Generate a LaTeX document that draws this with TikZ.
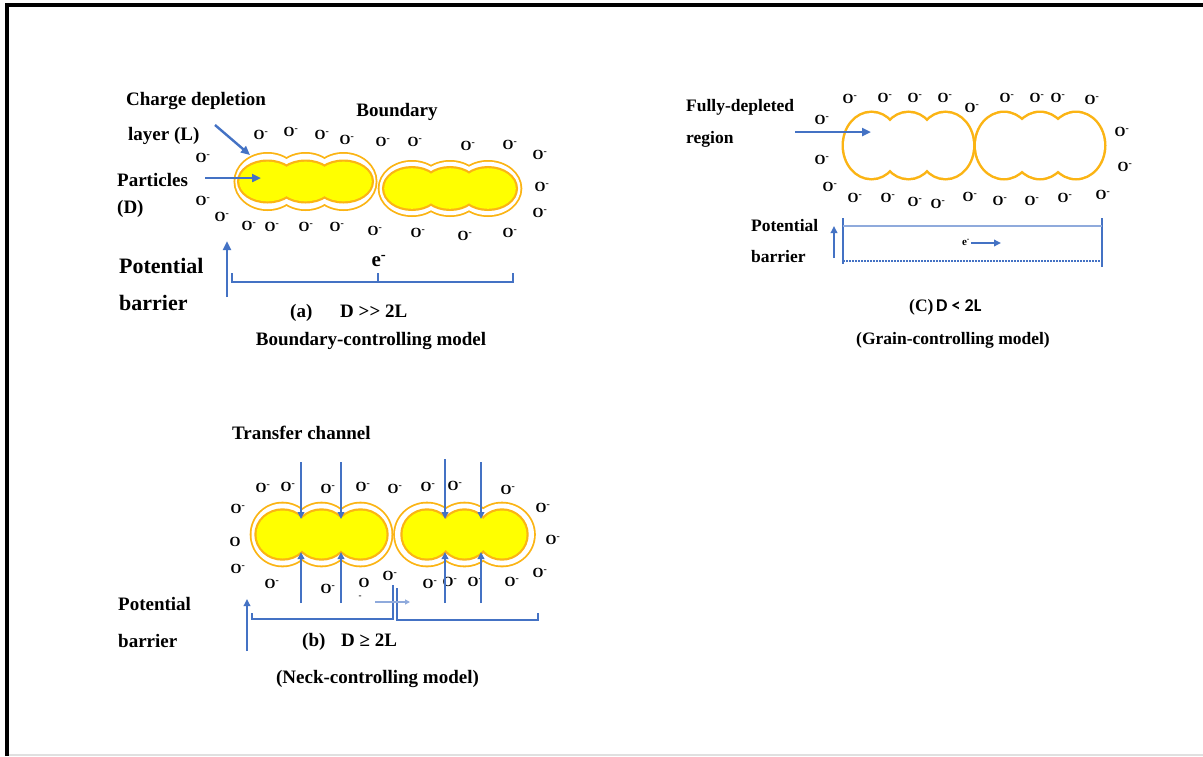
\documentclass[tikz,border=0pt]{standalone}
\usepackage{fontspec}
\setmainfont{Liberation Serif}
\newfontfamily\calfont{Carlito}
\usetikzlibrary{arrows.meta}

\definecolor{lineblue}{HTML}{4472C4}
\definecolor{paleblue}{HTML}{8FAADC}
\definecolor{grainedge}{HTML}{FBB414}
\definecolor{grainfill}{HTML}{FFFF00}

\tikzset{
  lbl/.style={inner sep=0pt, font=\fontsize{19}{22}\selectfont\bfseries},
  biglbl/.style={inner sep=0pt, font=\fontsize{22}{25}\selectfont\bfseries},
  midlbl/.style={inner sep=0pt, font=\fontsize{17.5}{20}\selectfont\bfseries},
  ox/.style={inner sep=0pt, font=\fontsize{14}{15}\selectfont\bfseries},
  elbl/.style={inner sep=0pt, font=\fontsize{21}{23}\selectfont\bfseries},
  smalle/.style={inner sep=0pt, font=\fontsize{11}{12}\selectfont\bfseries},
  barrow/.style={lineblue, line width=2.4pt, -{Triangle[length=9pt,width=8pt]}},
  sarrow/.style={lineblue, line width=2.2pt, -{Triangle[length=7pt,width=6.5pt]}},
  thinarrow/.style={paleblue, line width=1.2pt, -{Triangle[length=5pt,width=5pt]}},
  bracket/.style={lineblue, line width=2.4pt},
}

% grains with a depletion halo: #1 centre y, #2 centre xs, #3/#4 core radii, #5/#6 halo radii
\newcommand\haloedgrains[6]{%
  \foreach \cx in {#2} \draw[grainedge, line width=3.6pt] (\cx,#1) ellipse [x radius=#5pt, y radius=#6pt];
  \foreach \cx in {#2} \fill[white] (\cx,#1) ellipse [x radius=#5pt, y radius=#6pt];
  \foreach \cx in {#2} \draw[grainedge, line width=4.4pt] (\cx,#1) ellipse [x radius=#3pt, y radius=#4pt];
  \foreach \cx in {#2} \fill[grainfill] (\cx,#1) ellipse [x radius=#3pt, y radius=#4pt];
}
% fully depleted grains: outline only
\newcommand\emptygrains[4]{%
  \foreach \cx in {#2} \draw[grainedge, line width=5pt] (\cx,#1) ellipse [x radius=#3pt, y radius=#4pt];
  \foreach \cx in {#2} \fill[white] (\cx,#1) ellipse [x radius=#3pt, y radius=#4pt];
}

\begin{document}
\begin{tikzpicture}[x=1pt, y=-1pt]
\useasboundingbox (0,0) rectangle (1203,756);
\fill[white] (0,0) rectangle (1203,756);

% frame
\draw[line width=4pt, line join=miter] (7,756) -- (7,5.3) -- (1203,5.3);
\draw[black!12, line width=1.5pt] (9,755) -- (1203,755);

% ---------------- (a) boundary-controlling model ----------------
\haloedgrains{181.5}{267.5,305.5,343.5}{28.3}{19.8}{32.2}{27.7}
\haloedgrains{188.5}{412,450,488}{27.8}{20.3}{32.5}{26.7}

\foreach \x/\y [count=\i] in {261/135,291/132,322/135,347/140,383/142,415/142,468/146,510/145,540/155,
  203/158,203/201,222/217,542/187,540/213,
  249/226,272/227,306/227,337/227,375/231,418/233,465/236,510/233}
  \node[ox] (oa\i) at (\x,\y) {O\textsuperscript{-}};

\node[lbl, anchor=base west] (chargeA) at (126,105) {Charge depletion};
\node[lbl, anchor=base west] (layerA) at (128,140) {layer (L)};
\node[lbl, anchor=base] (boundaryA) at (397,116) {Boundary};
\node[lbl, anchor=base west] (particlesA) at (117,186) {Particles};
\node[lbl, anchor=base west] (dA) at (117,213) {(D)};
\node[biglbl, anchor=base west] (potA) at (119,273) {Potential};
\node[biglbl, anchor=base west] (barA) at (119,310) {barrier};
\node[elbl] (eA) at (379,261) {e\textsuperscript{-}};
\node[lbl, anchor=base west] (capA) at (290,317) {(a)};
\node[lbl, anchor=base west] (condA) at (340,317) {D >{}> 2L};
\node[lbl, anchor=base] (modelA) at (371,345) {Boundary-controlling model};

\coordinate (layerTipA) at (250,155);
\coordinate (particleTipA) at (261,178);
\coordinate (barFootA) at (227,297);
\coordinate (barTopA) at (227,241);
\draw[barrow] (215,125) -- (layerTipA);
\draw[barrow] (205,178) -- (particleTipA);
\draw[barrow] (barFootA) -- (barTopA);
\draw[bracket] (232,273) -- (232,282) -- (513,282) -- (513,273);
\draw[bracket] (378,282) -- (378,273);

% ---------------- (C) grain-controlling model ----------------
\emptygrains{145.5}{871.5,908.5,945.5}{27.5}{32.5}
\emptygrains{145.5}{1004,1040,1076}{28}{32.5}

\foreach \x/\y [count=\i] in {850/99,885/98,915/98,945/98,972/108,1007/98,1037/98,1058/98,1092/100,
  822/120,822/160,830/187,1122/132,1125/167,
  855/198,888/198,915/202,938/204,970/197,1000/201,1032/201,1065/198,1103/195}
  \node[ox] (oc\i) at (\x,\y) {O\textsuperscript{-}};

\node[midlbl, anchor=base west] (fullyC) at (686,111) {Fully-depleted};
\node[midlbl, anchor=base west] (regionC) at (686,143) {region};
\node[midlbl, anchor=base west] (potC) at (751,231) {Potential};
\node[midlbl, anchor=base west] (barC) at (751,262) {barrier};
\node[smalle] (eC) at (966,242) {e\textsuperscript{-}};
\node[midlbl, anchor=base west] (capC) at (909,311) {(C)};
\node[inner sep=0pt, font=\calfont\fontsize{18}{20}\selectfont\bfseries, anchor=base west] (condC) at (936,311) {D < 2L};
\node[midlbl, anchor=base] (modelC) at (953,344) {(Grain-controlling model)};

\coordinate (fullTipC) at (871,132);
\draw[barrow] (795,132) -- (fullTipC);
\draw[sarrow] (834,258) -- (834,226);
\draw[lineblue, line width=2.2pt] (843,218) -- (843,264);
\draw[lineblue, line width=2.2pt] (1102,218) -- (1102,267);
\draw[paleblue, line width=1.2pt] (843,226) -- (1102,226);
\draw[lineblue, line width=2.2pt, dash pattern=on 1.6pt off 1.4pt] (843,261) -- (1102,261);
\coordinate (eTipC) at (1001,243);
\draw[sarrow] (eC.east) ++(1,1) -- (eTipC);

% ---------------- (b) neck-controlling model ----------------
\haloedgrains{534.5}{282.5,321.5,360.5}{26}{24}{31}{31}
\haloedgrains{534.5}{427,464.5,502}{24.5}{24}{32}{31}

\foreach \x/\y [count=\i] in {263/488,288/487,328/489,363/487,395/489,428/487,455/486,508/490,
  238/509,238/569,543/508,553/540,540/573,
  272/584,328/589,390/576,430/584,450/582,475/582,512/582}
  \node[ox] (ob\i) at (\x,\y) {O\textsuperscript{-}};
\node[ox] (obPlainL) at (235,542) {O};
\node[ox] (obPlainB) at (364,583) {O};
\node[inner sep=0pt, font=\fontsize{9}{10}\selectfont\bfseries] (obDash) at (360,597) {-};

\node[lbl, anchor=base west] (transferB) at (232,439) {Transfer channel};
\node[lbl, anchor=base west] (potB) at (118,610) {Potential};
\node[lbl, anchor=base west] (barB) at (118,647) {barrier};
\node[lbl, anchor=base west] (capB) at (302,646) {(b)};
\node[lbl, anchor=base west] (condB) at (341,646) {D ≥ 2L};
\node[lbl, anchor=base] (modelB) at (377.5,683) {(Neck-controlling model)};

% transfer channels: arrows into the necks from above and below
\foreach \nx/\ty in {301/462,341/462,445/459,481/462}{
  \draw[sarrow] (\nx,\ty) -- (\nx,519);
  \draw[sarrow] (\nx,603) -- (\nx,552);
}
\draw[sarrow] (247,651) -- (247,599);
\draw[bracket] (252,613) -- (252,619) -- (393,619) -- (393,585);
\draw[bracket] (397,588) -- (397,620) -- (538,620) -- (538,613);
\draw[thinarrow] (375,602) -- (410,602);
\end{tikzpicture}
\end{document}
